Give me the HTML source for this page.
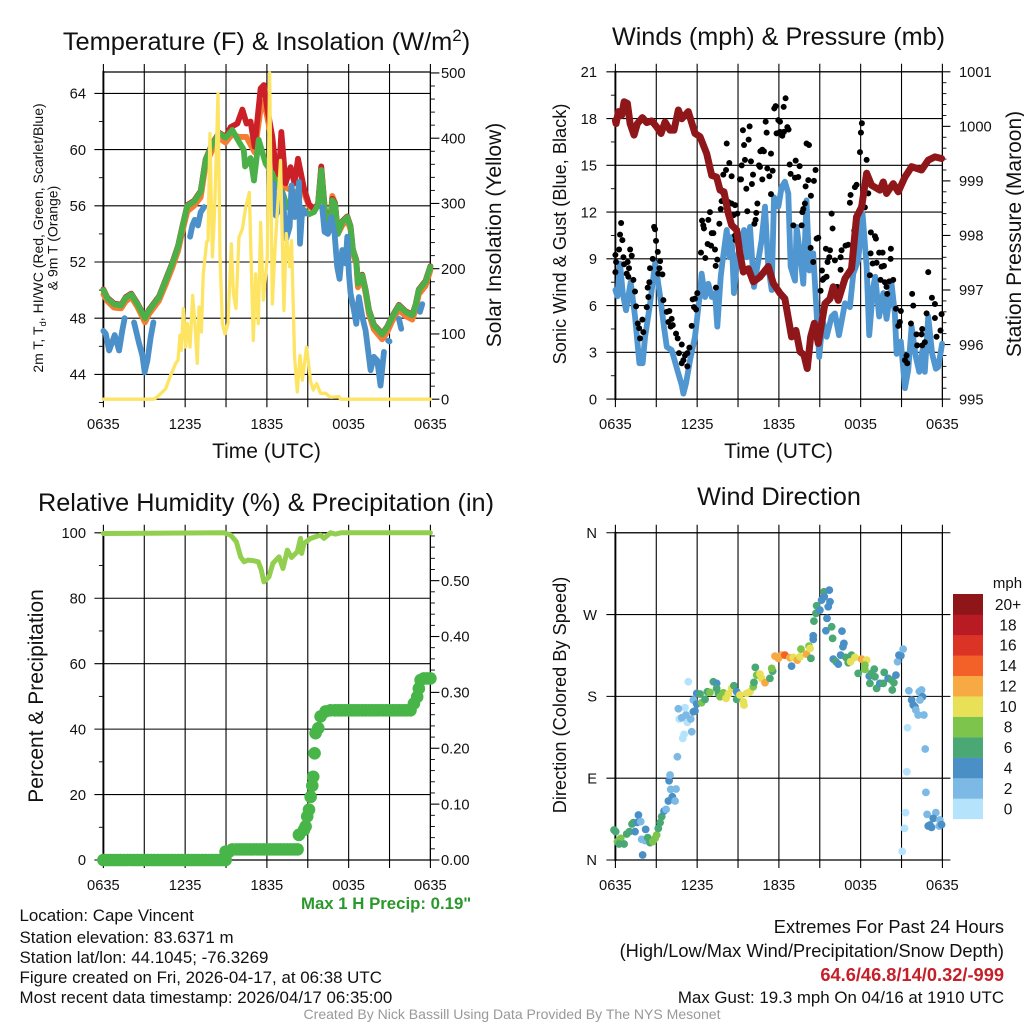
<!DOCTYPE html>
<html lang="en">
<head>
<meta charset="utf-8">
<title>Cape Vincent Meteogram</title>
<style>
html,body{margin:0;padding:0;background:#fff;width:1024px;height:1024px;overflow:hidden}
svg{display:block;font-family:"Liberation Sans",Arial,sans-serif;fill:#111}
</style>
</head>
<body>
<svg id="chart" xmlns="http://www.w3.org/2000/svg" width="1024" height="1024" viewBox="0 0 1024 1024">
<rect width="1024" height="1024" fill="#fff"/>
<g id="p1"></g>
<g id="p2"></g>
<g id="p3"></g>
<g id="p4"></g>

<text x="266.5" y="50" text-anchor="middle" font-size="25.4">Temperature (F) &amp; Insolation (W/m<tspan dy="-9" font-size="17">2</tspan><tspan dy="9">)</tspan></text>
<text x="778.5" y="45" text-anchor="middle" font-size="25.2">Winds (mph) &amp; Pressure (mb)</text>
<text x="266" y="511" text-anchor="middle" font-size="25.25">Relative Humidity (%) &amp; Precipitation (in)</text>
<text x="779" y="505" text-anchor="middle" font-size="25.2">Wind Direction</text>

<text x="266.5" y="458" text-anchor="middle" font-size="21">Time (UTC)</text>
<text x="778.5" y="458" text-anchor="middle" font-size="21">Time (UTC)</text>

<text transform="translate(43,238) rotate(-90)" text-anchor="middle" font-size="14">2m T, T<tspan dy="3" font-size="9.5">d</tspan><tspan dy="-3">, HI/WC (Red, Green, Scarlet/Blue)</tspan></text>
<text transform="translate(57.5,238) rotate(-90)" text-anchor="middle" font-size="14">&amp; 9m T (Orange)</text>
<text transform="translate(501,235) rotate(-90)" text-anchor="middle" font-size="21">Solar Insolation (Yellow)</text>
<text transform="translate(566,234) rotate(-90)" text-anchor="middle" font-size="18.2">Sonic Wind &amp; Gust (Blue, Black)</text>
<text transform="translate(1021,234) rotate(-90)" text-anchor="middle" font-size="21">Station Pressure (Maroon)</text>
<text transform="translate(43,696) rotate(-90)" text-anchor="middle" font-size="21">Percent &amp; Precipitation</text>
<text transform="translate(566,695) rotate(-90)" text-anchor="middle" font-size="18.2">Direction (Colored By Speed)</text>

<text x="301" y="909" font-size="16.8" font-weight="bold" style="fill:#2a982a">Max 1 H Precip: 0.19"</text>
<g font-size="16.9">
<text x="19.5" y="921">Location: Cape Vincent</text>
<text x="19.5" y="943">Station elevation: 83.6371 m</text>
<text x="19.5" y="963">Station lat/lon: 44.1045; -76.3269</text>
<text x="19.5" y="983">Figure created on Fri, 2026-04-17, at 06:38 UTC</text>
<text x="19.5" y="1003">Most recent data timestamp: 2026/04/17 06:35:00</text>
</g>
<g font-size="18.25" text-anchor="end">
<text x="1004" y="933">Extremes For Past 24 Hours</text>
<text x="1004" y="957">(High/Low/Max Wind/Precipitation/Snow Depth)</text>
<text x="1004" y="981" font-weight="bold" style="fill:#c5202a">64.6/46.8/14/0.32/-999</text>
<text x="1004" y="1003" font-size="16.87">Max Gust: 19.3 mph On 04/16 at 1910 UTC</text>
</g>
<text x="512" y="1019" text-anchor="middle" font-size="14.04" style="fill:#999">Created By Nick Bassill Using Data Provided By The NYS Mesonet</text>
</svg>

<script>
const timeTickHours = [0,3,6,9,12,15,18,21,24];
const timeTickLabels = ["0635","","1235","","1835","","0035","","0635"];

const tempTicks = [44,48,52,56,60,64];
const tempMinorTicks = [42,46,50,54,58,62];
const solarTicks = [0,100,200,300,400,500];
const solarMinorTicks = [20,40,60,80,120,140,160,180,220,240,260,280,320,340,360,380,420,440,460,480];

const orangeHours = [0,.3,.78,1.3,1.64,2.05,2.5,3.05,3.35,4.08,4.57,5.06,5.48,5.8,6.16,6.65,7.14,7.5,8,8.5,8.97,9.46,9.95,10.5,11.1,11.54,11.78,12.03,12.4,12.89,13.37,14,14.72,15.09,15.45,15.75,15.99,16.19,16.38,16.58,16.8,17,17.21,17.53,17.9,18.14,18.31,18.56,18.68,19,19.24,19.49,19.85,20.46,20.83,21.2,21.69,22.18,22.67,22.91,23.15,23.64,24];
const orangeTemp = [49.7,49.2,48.75,48.7,49.2,49.5,48.8,47.7,48.3,49.25,50.4,51.6,52.8,54.2,55.6,56,56.6,58.9,60,60.8,60.5,61.1,60.9,60.9,59.8,62.9,63.4,62.3,60.4,57.9,57.3,57,56.9,56,55.7,56,58.7,56.3,54.2,54.2,56.7,56.2,54,54.6,55,54.3,52.6,51.9,50.2,50.85,49.8,48.3,47.2,46.5,47,47.8,48.6,48.15,47.9,48.6,49.7,50.3,51.4];

const redHours = [0,.3,.78,1.3,1.64,2.05,2.5,3.05,3.35,4.08,4.57,5.06,5.48,5.8,6.16,6.65,7.14,7.5,8,8.5,8.97,9.34,9.83,10.2,10.51,10.8,11.1,11.3,11.54,11.78,12.03,12.4,12.64,12.89,13.06,13.37,13.74,14.03,14.28,14.72,15.09,15.45,15.75,15.99,16.19,16.38,16.58,16.8,17,17.21,17.53,17.9,18.14,18.31,18.56,18.68,19,19.24,19.49,19.85,20.46,20.83,21.2,21.69,22.18,22.67,22.91,23.15,23.64,24];
const redTemp = [50.05,49.45,49.05,48.95,49.5,49.75,49.05,48.05,48.6,49.55,50.75,51.95,53.15,54.55,56.05,56.35,57.05,59.3,60.45,61.2,60.9,61.6,61.85,62.85,61.85,62,60.2,62.1,64.35,64.6,62.9,60.9,58.65,58.2,61.25,57.6,58.75,57.6,59.35,57.25,56.1,55.8,56.1,58.8,56.5,54.2,54.3,56.5,56.2,54.05,54.9,55.25,54.55,52.9,52.15,50.5,51.1,50.05,48.6,47.55,46.9,47.4,48.15,48.95,48.5,48.25,48.95,50.05,50.65,51.7];

const greenHours = [0,.3,.78,1.3,1.64,2.05,2.5,3.05,3.35,4.08,4.57,5.06,5.48,5.8,6.16,6.65,7.14,7.5,8,8.5,8.97,9.46,9.95,10.3,10.4,10.8,11.05,11.4,11.91,12.4,12.76,13.13,13.5,14,14.72,15.09,15.45,15.75,15.99,16.19,16.38,16.58,16.8,17,17.21,17.53,17.9,18.14,18.31,18.56,18.68,19,19.24,19.49,19.85,20.46,20.83,21.2,21.69,22.18,22.67,22.91,23.15,23.64,24];
const greenTemp = [50,49.4,49,48.9,49.45,49.7,49,48,48.55,49.5,50.7,51.9,53.1,54.5,56,56.3,57,59.25,60.4,61.15,60.85,61.4,60.55,60,58.8,59.4,57.8,60.7,59,58.3,57.35,57,55.9,55.7,55.7,55.4,55.55,56.05,58.55,56.4,54.15,54.25,56.4,56.15,54,54.85,55.2,54.5,52.85,52.1,50.45,51.05,50,48.55,47.5,46.85,47.35,48.1,48.9,48.45,48.2,48.9,50,50.6,51.65];

const blueHours = [0,.17,.42,.83,1.15,1.39,1.56,null,2.25,2.62,2.86,3.03,3.23,3.47,3.67,null,6.36,6.53,6.7,6.94,7.14,7.38,null,12.47,12.66,12.91,13.13,13.42,13.67,13.81,14.03,14.23,14.35,14.43,14.6,14.84,null,16.06,16.23,16.48,16.72,16.97,17.16,17.33,17.53,17.77,17.9,18.02,18.14,18.39,18.56,18.75,19,19.24,19.61,19.85,20.1,20.34,20.59,null,20.9,21,null,21.69,21.86,null,23.23,23.4];
const blueTemp = [47.1,46.9,45.7,46.8,45.7,47.15,48,null,47.7,46.2,45.35,44.15,45,46.65,47.7,null,53.8,54.6,55,54.6,55.55,55.9,null,57.6,55.3,55.9,56.9,53.65,54.5,57.45,55.2,56.15,57.7,53.3,55.8,55.45,null,55.9,54.15,54,55.2,54,51.65,50.8,52.85,51.9,53.8,51.15,49.75,48.55,47.6,49.5,48.1,47.15,44.3,45.25,45,43.2,45.6,null,46.4,46.35,null,47.95,47.25,null,48.45,49];

const solarHours = [0,3.72,4.08,4.57,4.94,5.31,5.48,5.62,5.72,5.87,6.04,6.16,6.36,6.55,6.7,6.89,7.02,7.19,7.33,7.58,7.68,7.82,8,8.17,8.41,8.56,8.73,8.92,9.14,9.39,9.54,9.73,9.95,10.2,10.44,10.71,11,11.17,11.37,11.54,11.74,12.03,12.2,12.4,12.59,13,13.25,13.42,13.67,13.81,14.03,14.23,14.43,14.6,14.91,15.21,15.4,15.65,15.94,16.31,16.67,17.29,17.41,24];
const solarWatts = [0,0,6,16,37,55,60,98,75,139,80,116,80,159,121,55,141,103,192,241,243,407,218,294,468,218,116,100,116,238,162,139,248,261,294,317,90,192,116,271,152,218,500,146,228,366,136,254,203,243,65,11,67,29,80,27,14,24,9,9,3,4,0,0];

const windTicks = [0,3,6,9,12,15,18,21];
const windMinorTicks = [1.5,4.5,7.5,10.5,13.5,16.5,19.5];
const pressureTicks = [995,996,997,998,999,1000,1001];
const pressureMinorTicks = [995.2,995.4,995.6,995.8,996.2,996.4,996.6,996.8,997.2,997.4,997.6,997.8,998.2,998.4,998.6,998.8,999.2,999.4,999.6,999.8,1000.2,1000.4,1000.6,1000.8];

const gustHours = [0,0,.05,.27,.34,.42,.51,.59,.64,.9,1,1.08,1.2,.83,.95,1.32,1.44,1.52,1.64,1.74,1.81,1.98,2.05,2.37,2.49,2.42,2.3,2.54,2.74,2.84,2.91,2.98,3.11,3.28,3.23,3.15,3.45,3.52,3.77,3.96,3.89,4.13,4.21,4.06,4.45,4.57,4.87,4.67,4.99,4.87,5.11,5.28,5.43,5.28,5.6,5.67,5.84,5.77,5.92,6.01,6.28,6.36,6.45,6.5,6.82,6.94,7.07,7.19,6.77,7.02,7.31,6.6,7.63,7.48,7.36,7.38,7.73,7.8,7.92,8.12,8.17,8.36,8.53,7.92,8.29,8.53,8.78,8.95,8.66,8.83,8.78,9.14,9.22,9.27,9.44,9.36,9.51,9.78,9.85,9.95,10.1,10.02,9.61,9.68,10.34,10.42,10.29,10.2,10.54,10.61,10.64,10.78,10.9,10.78,11.15,11.03,11.1,11.3,11.42,11.54,11.42,11.66,11.76,11.96,12.08,11.83,12.08,12.37,12.25,12.49,12.35,12.62,12.71,12.79,12.86,13.23,13.52,13.18,13.42,13.96,14.16,14.21,14.03,14.69,14.57,14.35,13.06,13.67,13.72,13.91,13.79,14.89,14.77,14.33,14.52,15.16,15.5,15.31,15.21,15.06,15.87,15.94,15.45,15.75,15.7,16.11,15.57,16.53,16.53,16.28,16.6,16.89,17.09,17.21,17.26,17.58,17.7,17.53,17.95,18.02,18.09,18.44,18.56,18.31,18.75,19.05,19.12,18.73,19.36,19.61,18.88,19.17,19.54,19.71,18.68,20.22,20.2,19.46,19.78,20.1,20.39,19.9,19.95,20.59,20.95,20.88,20.76,21.69,21.86,21.78,22.96,23.23,23.45,23.45,22.84,23.94,23.86,23.57,22.71,22.52,22.1,22.47,22.15,22.52,21.37,21.25,21.42];
const gustSpeed = [8.15,9.25,8.8,9.6,10.55,11.3,10.2,9.1,8.65,8.8,8.4,9.6,9.2,8.05,7.85,7.65,6.9,5.95,4.85,4.55,3.9,5.1,4.3,7.15,7.5,6.55,5.9,8.4,9,11.05,10.9,10.15,9.45,8.85,8.4,8.05,8,6.35,5.6,5.65,4.95,5.15,4.75,4.65,4.2,3.9,3.5,2.95,2.5,2.3,2.8,2.95,3.3,2.1,4.7,6.4,6.45,5.9,5.75,6.8,9.4,11.45,11.15,10.95,11.5,12,10.65,10.65,9.95,9.85,9.6,9.05,11.25,8.95,8.55,7.15,12.2,12.7,14.4,14.7,16.4,15.15,14.3,13.2,12.65,12.55,12.45,11.9,11.8,10.2,10.5,14.1,14.1,15,16.3,17.25,15.35,16.65,17.5,15.25,14.4,13.8,13.5,12.05,11.95,12.55,11.5,11.25,15,14.9,15.9,16,15.9,14.1,14.8,17.8,17.1,14.3,15.75,14.65,13.15,18.65,18.8,17.9,17.8,17.05,17.15,17.15,16.9,19.3,18.75,17.45,17.3,15.05,14.45,15.3,14.95,14.2,14.25,13.65,14.05,16.3,16.4,14.7,14,13.05,11.15,11.15,12,12.55,12.2,10.35,10.3,9.7,8.8,8.25,7.85,7.75,7.65,6.95,11.9,10.95,9.65,9.55,9.1,8.9,8.8,9.1,8.3,7.2,9.55,9.85,9.9,12.6,13.1,13.6,13.75,10.8,15.85,17.1,17.7,15.35,13.2,12.3,10.7,10.45,10.3,9.35,9.4,9.4,8.7,8.75,8.5,8.55,7.95,9.65,9,7.65,7.5,7.55,7.65,7.2,6.75,5.8,5.65,4.95,4.7,4.85,6,6.75,8.15,6.5,6.1,5.2,5.5,5.45,4.4,4,3.65,4.5,4.15,4.15,3.45,3.45,2.8,2.5,2.3];

const windHours = [0,.15,.34,.54,.78,1.12,1.44,1.76,2,2.18,2.54,2.91,3.08,3.33,3.57,3.77,4.13,4.55,4.87,4.99,5.18,5.48,5.84,6.21,6.33,6.58,6.82,7.07,7.31,7.48,7.73,7.87,8.17,8.36,8.53,8.7,8.95,9.14,9.44,9.63,9.88,10.17,10.49,10.73,10.98,11.22,11.47,11.64,11.96,12.2,12.44,12.69,12.86,13.18,13.3,13.55,13.79,14.03,14.23,14.52,14.77,14.96,15.21,15.5,15.87,16.11,16.41,16.85,17.21,17.46,17.82,18.14,18.44,18.63,18.92,19.07,19.36,19.66,19.9,20.27,20.51,20.64,20.95,21.25,21.49,21.74,22.05,22.3,22.54,22.71,22.96,23.25,23.52,23.69,23.98];
const windSpeed = [7,6.6,8.7,6.8,5.7,7.5,5.3,2.3,2.3,4,6.1,8.7,7.8,6.3,4.6,3.35,3.15,1.85,.9,.35,1,2.5,4,6.8,8.05,6.55,7.4,6.55,6.8,4.65,7.85,8.9,10.85,9.1,10.4,6.8,9.1,9.75,10.85,9.1,11.05,7.2,8.9,10.2,12.35,8.5,7,12.95,12.35,13.6,13.95,13.2,8.5,7.6,11.05,9.35,7.4,12.75,8.25,9.35,5.5,2.7,5.05,4,5.3,5.5,4.1,6.15,5.9,8.05,8.9,11.9,8.5,4.1,7.2,7.85,5.3,6.8,5.15,7.4,5.5,2.9,3.7,.7,1.85,4.65,2.7,1.75,3.15,1.75,5.3,2.9,1.95,2.05,3.55];

const pressureHours = [0,.05,.22,.46,.64,.88,1.08,1.37,1.61,1.98,2.3,2.67,3.03,3.35,3.64,4.01,4.3,4.62,4.87,5.35,5.84,6.21,6.7,7.07,7.43,7.68,7.97,8.29,8.53,8.9,9.14,9.39,9.76,10.12,10.61,11.22,11.59,12.08,12.44,12.93,13.25,13.55,13.84,14.08,14.33,14.6,14.89,15.38,15.75,15.99,16.36,16.85,17.33,17.7,18.07,18.44,18.8,19.41,19.66,19.9,20.39,20.76,21.25,21.74,22.47,22.96,23.45,23.94];
const pressureMb = [1000.11,1000.05,1000.27,1000.2,1000.45,1000.42,1000.05,999.84,1000.05,1000.16,1000.07,1000.1,999.99,999.87,1000.08,999.93,999.93,1000.3,1000.14,1000.27,999.87,999.81,999.5,999.1,999.07,998.83,998.8,998.4,998.19,998.1,997.67,997.33,997.39,997.15,997.24,997.43,997.12,996.94,996.84,996.14,996.26,995.87,995.81,995.56,996.14,996.39,996.02,996.75,996.84,997.06,996.81,997.21,997.39,998.34,998.52,999.14,998.92,998.83,998.98,998.77,998.95,998.8,999.07,999.26,999.2,999.38,999.44,999.41];

const rhTicks = [0,20,40,60,80,100];
const rhMinorTicks = [10,30,50,70,90];
const precipTicks = [0,.1,.2,.3,.4,.5];
const precipTickLabels = ["0.00","0.10","0.20","0.30","0.40","0.50"];
const precipMinorTicks = [.02,.04,.06,.08,.12,.14,.16,.18,.22,.24,.26,.28,.32,.34,.36,.38,.42,.44,.46,.48,.52,.54,.56,.58];

const rhHours = [0,8.85,9.34,9.76,10.07,10.32,10.61,11.05,11.37,11.59,11.78,12.15,12.44,12.89,13.18,13.5,13.81,14.23,14.47,14.55,14.72,15.21,15.94,16.19,16.67,17.04,17.41,24];
const rhPercent = [99.8,100,99.3,97.25,92.65,91.15,91.65,91.45,91.15,88.6,85,86.55,90.65,92.65,89.1,94.7,92.45,94.2,98.3,93.7,96.75,98.3,99.3,98.3,100,99.6,100,100];

const precipHours = [0,.25,.5,.75,1,1.25,1.5,1.75,2,2.25,2.5,2.75,3,3.25,3.5,3.75,4,4.25,4.5,4.75,5,5.25,5.5,5.75,6,6.25,6.5,6.75,7,7.25,7.5,7.75,8,8.25,8.5,8.75,8.97,8.97,9.22,9.46,9.75,10,10.25,10.5,10.75,11,11.25,11.5,11.75,12,12.25,12.5,12.75,13,13.25,13.5,13.75,14,14.25,14.35,14.72,14.84,14.96,15.09,15.21,15.33,15.4,15.5,15.57,15.77,15.94,16.31,16.67,17,17.25,17.5,17.75,18,18.25,18.5,18.75,19,19.25,19.5,19.75,20,20.25,20.5,20.75,21,21.25,21.5,21.75,22,22.25,22.54,22.79,23.03,23.15,23.28,23.52,23.76,24];
const precipInches = [0,0,0,0,0,0,0,0,0,0,0,0,0,0,0,0,0,0,0,0,0,0,0,0,0,0,0,0,0,0,0,0,0,0,0,0,0,.015,.015,.019,.019,.019,.019,.019,.019,.019,.019,.019,.019,.019,.019,.019,.019,.019,.019,.019,.019,.019,.019,.045,.054,.06,.078,.09,.113,.133,.149,.191,.227,.236,.257,.266,.268,.268,.268,.268,.268,.268,.268,.268,.268,.268,.268,.268,.268,.268,.268,.268,.268,.268,.268,.268,.268,.268,.268,.268,.28,.292,.307,.322,.325,.325,.325];

const dirTicks = [0,90,180,270,360];
const dirTickLabels = ["N","E","S","W","N"];
const speedLabels = ["0","2","4","6","8","10","12","14","16","18","20+"];

const dirHours = [-.1,.02,.15,.39,.27,.64,.83,1.03,1.22,1.32,1.44,1.69,1.61,1.86,2.22,1.93,2.18,2,2.37,2.54,2.74,3.03,2.91,3.15,3.28,3.4,3.57,3.72,3.89,4.18,4.38,4.06,4.45,3.94,4.01,4.55,4.94,5.04,5.6,5.28,4.69,4.87,5.18,5.11,4.62,5.53,5.72,5.84,5.97,5.35,5.72,5.97,6.33,6.58,6.21,6.75,6.94,7.19,7.43,7.43,7.56,7.68,7.92,8.12,8.29,8.53,8.7,8.9,8.9,9.14,9.39,9.44,9.63,9.88,10.12,10.17,10.37,10.27,10.61,10.73,10.98,11.34,11.54,11.47,11.71,11.96,12.2,12.44,12.81,13.06,13.35,13.55,13.62,14.03,14.21,14.28,14.35,12.93,14.52,14.52,14.57,14.72,14.77,15.01,15.13,15.31,15.7,15.33,15.75,15.62,15.53,15.45,15.87,15.94,16.63,16.77,16.7,15.99,16.19,16.36,16.53,16.92,17.09,17.33,17.26,17.58,18.07,18.44,18.31,18.31,17.82,18.63,18.68,19,18.8,19.05,19.17,19.41,19.73,19.66,20.02,20.27,20.32,20.44,20.59,20.71,20.81,20.95,21.12,21.54,21.74,21.86,21.98,22.3,22.47,22.54,22.35,22.05,22.22,22.64,21.44,22.74,21.39,22.79,21.3,21.22,21.05,22.88,23.52,23.33,23.08,22.96,23.2,23.81,23.77,23.94];
const dirDegrees = [33,31.2,20.2,23.8,17.6,17.6,28.6,31.2,39.6,41.1,31.2,49.5,41.4,42.2,33.7,22.7,21.3,5.5,24.6,19.1,20.2,27.5,23.8,34.8,41.1,47.7,53.9,55.7,64.9,69.6,64.9,77.7,78.1,87.2,93.5,113.6,133.8,138.2,141.1,151.4,155.1,156.5,159.5,167.5,166.4,155.1,163.1,163.9,183.3,196.1,176,171.6,173,176.7,182.6,185.1,184.4,196.1,194.3,188.8,183.3,179.6,184,177.8,182.6,188.8,191.7,185.1,176.7,181.5,174.1,170.5,183.3,185.1,190.6,195.4,203.4,211.9,204.5,199.8,195,199.8,207.8,210.8,224.3,221.8,225.4,225.4,222.5,222.9,219.9,223.6,232,226.5,235.3,232.8,221.8,213.3,246.7,242.7,262.8,271.3,279.7,274.9,285.9,295.1,296.9,289.6,284.1,278.6,265.8,252.2,256.6,243.8,251.8,238.3,234.6,221,218.1,215.5,225.4,222.9,217,225.4,218.1,222.9,221,219.9,214.4,209.7,205.3,202.3,194.3,210,205.3,201.6,188.8,194.3,206.4,194.3,199.8,197.9,187,195,203.4,218.1,225.4,224.7,232,186.2,176,170.5,168.6,185.1,187,179.6,176,165,159.5,159.5,145.5,122.1,97.1,74.4,52.1,34.8,9.5,50.2,52.1,45.8,38.5,37.4,35.9,44,37.4,38.9];
const dirSpeed = [7,7,9,9,7,7,7,7,7,7,5,5,5,3,5,3,3,5,7,7,9,9,9,7,7,7,5,3,5,5,3,3,3,5,3,3,1,1,3,1,1,3,3,1,3,3,5,5,5,1,3,5,9,7,7,7,9,7,5,7,7,9,9,11,11,11,7,5,7,11,11,11,11,11,9,7,9,7,11,11,13,7,7,9,13,13,13,15,13,11,13,11,9,13,9,11,7,5,5,5,7,7,7,5,5,7,5,5,5,5,5,5,7,7,5,5,5,5,7,5,5,7,7,7,11,11,13,11,9,9,7,5,7,7,7,7,7,5,7,7,5,7,7,7,5,3,5,5,3,3,5,5,5,3,3,5,3,3,3,3,1,3,1,3,1,1,1,3,3,5,5,5,5,3,3,5];
const speedPalette = ["#b5e3fb","#7db9e5","#4a90c6","#49a873","#7cc44c","#e8e056","#f7aa44","#f36028","#dc3327","#b81b24","#8f1518"];

const NS = "http://www.w3.org/2000/svg";
function make(parent, tag) {
  const el = document.createElementNS(NS, tag);
  parent.appendChild(el);
  return el;
}
function pathFrom(hours, values, xf, yf) {
  let d = "", pen = false;
  const n = Math.min(hours.length, values.length);
  for (let i = 0; i < n; i++) {
    if (hours[i] === null || values[i] === null) { pen = false; continue; }
    d += (pen ? "L" : "M") + xf(hours[i]).toFixed(2) + " " + yf(values[i]).toFixed(2);
    pen = true;
  }
  return d;
}
function seg(parent, x1, y1, x2, y2, w) {
  const l = make(parent, "line");
  l.setAttribute("x1", x1); l.setAttribute("y1", y1);
  l.setAttribute("x2", x2); l.setAttribute("y2", y2);
  l.setAttribute("stroke", "#000");
  l.setAttribute("stroke-width", w || 1.1);
  
  
  return l;
}
function label(parent, x, y, str, anchor, size) {
  const t = make(parent, "text");
  t.setAttribute("x", x); t.setAttribute("y", y);
  t.setAttribute("text-anchor", anchor);
  t.setAttribute("font-size", size || 14.7);
  t.textContent = str;
  
  
  return t;
}
function frame(g, L, R, T, B, xf, tickY) {
  timeTickHours.forEach((h, i) => {
    const x = xf(h);
    seg(g, x, T - 8, x, B + 8);
    if (timeTickLabels[i]) label(g, x, B + 30, timeTickLabels[i], "middle");
  });
  seg(g, L, T, R, T, 1.2);
  seg(g, L, B, R, B, 1.2);
  seg(g, L, T - 1, L, B + 1, 1.9);
  seg(g, R, T, R, B, 1.2);
}
function seriesLine(g, hours, values, xf, yf, color, width) {
  const p = make(g, "path");
  p.setAttribute("d", pathFrom(hours, values, xf, yf));
  p.setAttribute("fill", "none");
  p.setAttribute("stroke", color);
  p.setAttribute("stroke-width", width);
  p.setAttribute("stroke-linejoin", "round");
  p.setAttribute("stroke-linecap", "round");
  return p;
}

/* Temperature panel */
(function () {
  const g = document.getElementById("p1");
  const L = 103.4, R = 430.4, T = 72, B = 399.2;
  const xf = h => L + h * 13.625;
  const yT = v => 93.4 + (64 - v) * 14.05;
  const yS = v => 399.2 - v * 0.6525;
  frame(g, L, R, T, B, xf);
  tempTicks.forEach(v => { seg(g, L - 9, yT(v), R, yT(v)); label(g, 86, yT(v) + 5.2, String(v), "end"); });
  tempMinorTicks.forEach(v => { seg(g, L - 4.5, yT(v), L, yT(v), .9); });
  solarTicks.forEach(v => { seg(g, R, yS(v), R + 9, yS(v)); label(g, 441, yS(v) + 5.2, String(v), "start"); });
  solarMinorTicks.forEach(v => { seg(g, R, yS(v), R + 4.5, yS(v), .9); });
  let s;
  s = seriesLine(g, orangeHours, orangeTemp, xf, yT, "#f57c33", 5.8);
  
  
  s = seriesLine(g, redHours, redTemp, xf, yT, "#cb2027", 5.8);
  
  
  s = seriesLine(g, greenHours, greenTemp, xf, yT, "#4bb048", 5.8);
  
  
  s = seriesLine(g, blueHours, blueTemp, xf, yT, "#4b90c8", 5.8);
  
  
  s = seriesLine(g, solarHours, solarWatts, xf, yS, "#fde463", 3.3);
  
  
})();

/* Wind panel */
(function () {
  const g = document.getElementById("p2");
  const L = 615.4, R = 942.4, T = 71.8, B = 399.1;
  const xf = h => L + h * 13.625;
  const yW = v => B - v * 15.585;
  const yP = v => B - (v - 995) * 54.55;
  frame(g, L, R, T, B, xf);
  windTicks.forEach(v => { seg(g, L - 9, yW(v), R, yW(v)); label(g, 597, yW(v) + 5.2, String(v), "end"); });
  windMinorTicks.forEach(v => { seg(g, L - 4.5, yW(v), L, yW(v), .9); });
  pressureTicks.forEach(v => { seg(g, R, yP(v), R + 8, yP(v)); label(g, 959, yP(v) + 5.2, String(v), "start"); });
  pressureMinorTicks.forEach(v => { seg(g, R, yP(v), R + 4, yP(v), .9); });
  const w = seriesLine(g, windHours, windSpeed, xf, yW, "#5096d0", 5.8);
  
  
  gustHours.forEach((h, i) => {
    const c = make(g, "circle");
    c.setAttribute("cx", xf(h).toFixed(2));
    c.setAttribute("cy", yW(gustSpeed[i]).toFixed(2));
    c.setAttribute("r", 3);
    c.setAttribute("fill", "#000");
    
    
  });
  const p = seriesLine(g, pressureHours, pressureMb, xf, yP, "#8f1619", 7);
  
  
})();

/* Humidity panel */
(function () {
  const g = document.getElementById("p3");
  const L = 103.4, R = 430.4, T = 532.8, B = 860;
  const xf = h => L + h * 13.625;
  const yR = v => B - v * 3.272;
  const yI = v => B - v * 558.7;
  frame(g, L, R, T, B, xf);
  rhTicks.forEach(v => { seg(g, L - 9, yR(v), R, yR(v)); label(g, 86, yR(v) + 5.2, String(v), "end"); });
  rhMinorTicks.forEach(v => { seg(g, L - 4.5, yR(v), L, yR(v), .9); });
  precipTicks.forEach((v, i) => { seg(g, R, yI(v), R + 9, yI(v)); label(g, 441, yI(v) + 5.2, precipTickLabels[i], "start"); });
  precipMinorTicks.forEach(v => { seg(g, R, yI(v), R + 4.5, yI(v), .9); });
  const r = seriesLine(g, rhHours, rhPercent, xf, yR, "#92cf4e", 5);
  
  
  precipHours.forEach((h, i) => {
    const c = make(g, "circle");
    c.setAttribute("cx", xf(h).toFixed(2));
    c.setAttribute("cy", yI(precipInches[i]).toFixed(2));
    c.setAttribute("r", 6.3);
    c.setAttribute("fill", "#48b548");
    
    
  });
})();

/* Direction panel */
(function () {
  const g = document.getElementById("p4");
  const L = 615.4, R = 942.4, T = 532.8, B = 860;
  const xf = h => L + h * 13.625;
  const yD = v => B - v * 0.909;
  frame(g, L, R, T, B, xf);
  dirTicks.forEach((v, i) => { seg(g, L - 9, yD(v), R + 8, yD(v)); label(g, 597, yD(v) + 5.2, dirTickLabels[i], "end"); });
  dirHours.forEach((h, i) => {
    const c = make(g, "circle");
    c.setAttribute("cx", xf(h).toFixed(2));
    c.setAttribute("cy", yD(dirDegrees[i]).toFixed(2));
    c.setAttribute("r", 3.9);
    c.setAttribute("fill", speedPalette[Math.min(10, Math.floor(dirSpeed[i] / 2))]);
    
    
  });
  const legend = make(g, "g");
  
  
  const top = 594, boxH = 20.45;
  speedLabels.forEach((txt, i) => {
    const y = top + (10 - i) * boxH;
    const b = make(legend, "rect");
    b.setAttribute("x", 953); b.setAttribute("y", y);
    b.setAttribute("width", 30); b.setAttribute("height", boxH + .2);
    b.setAttribute("fill", speedPalette[i]);
    
    
    const t = label(legend, 1008, y + boxH / 2 + 5.6, txt, "middle", 15.5);
    
  });
  const u = label(legend, 1007.5, 588, "mph", "middle", 15);
  
})();
</script>
</body>
</html>
